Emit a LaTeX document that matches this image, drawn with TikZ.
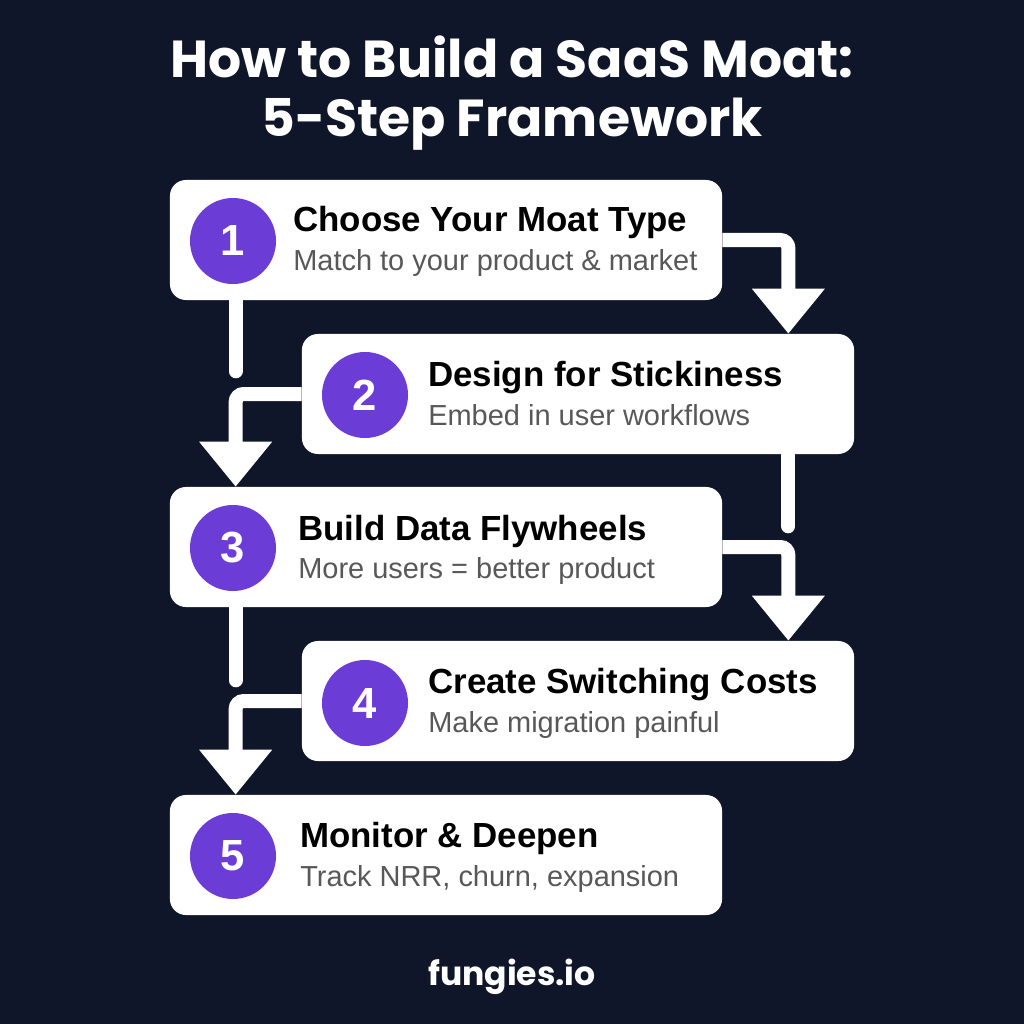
\documentclass[tikz,border=0pt]{standalone}
\usepackage{fontspec}
\setmainfont{Liberation Sans}
\newfontfamily\poppins{Poppins}
\usetikzlibrary{arrows.meta,calc,positioning}
\definecolor{bgnavy}{RGB}{15,22,41}
\definecolor{stepviolet}{RGB}{108,60,215}
\definecolor{subgray}{RGB}{88,88,88}

\begin{document}
\begin{tikzpicture}[x=0.025cm,y=-0.025cm,
    card/.style={fill=white,rounded corners=0.4cm,minimum width=13.8cm,minimum height=3cm},
    num/.style={circle,fill=stepviolet,minimum size=2.15cm,inner sep=0pt,text=white,font=\fontsize{31}{31}\selectfont\bfseries},
    head/.style={anchor=base west,inner sep=0pt,font=\fontsize{24.8}{24.8}\selectfont\bfseries},
    sub/.style={anchor=base west,inner sep=0pt,text=subgray,font=\fontsize{20.6}{20.6}\selectfont},
    flow/.style={white,line width=0.35cm,rounded corners=0.2cm,-{Triangle[width=1.75cm,length=1.125cm]}},
    stub/.style={white,line width=0.35cm,line cap=round},
    banner/.style={anchor=base,inner sep=0pt,text=white,font=\poppins\bfseries\fontsize{37}{37}\selectfont}]
  \fill[bgnavy] (0,0) rectangle (1024,1024);
  \useasboundingbox (0,0) rectangle (1024,1024);

  \node[banner] (title1) at (512,78) {How to Build a SaaS Moat:};
  \node[banner] (title2) at (512,137) {5-Step Framework};

  \node[card] (b1) at (446,240) {};
  \node[num] (n1) at (233,241) {1};
  \node[head] (h1) at (293,232) {Choose Your Moat Type};
  \node[sub] (s1) at (293,270) {Match to your product \& market};

  \node[card] (b2) at (578,394) {};
  \node[num] (n2) at (365,395) {2};
  \node[head] (h2) at (428,386) {Design for Stickiness};
  \node[sub] (s2) at (428,425) {Embed in user workflows};

  \node[card] (b3) at (446,547) {};
  \node[num] (n3) at (233,548) {3};
  \node[head] (h3) at (298,540) {Build Data Flywheels};
  \node[sub] (s3) at (298,578) {More users = better product};

  \node[card] (b4) at (578,701) {};
  \node[num] (n4) at (365,703) {4};
  \node[head] (h4) at (428,693) {Create Switching Costs};
  \node[sub] (s4) at (428,732) {Make migration painful};

  \node[card] (b5) at (446,855) {};
  \node[num] (n5) at (233,856) {5};
  \node[head] (h5) at (300,847) {Monitor \& Deepen};
  \node[sub] (s5) at (300,886) {Track NRR, churn, expansion};

  \draw[flow] (b1.east) -| ($(b2.north east)+(-66,0)$);
  \draw[flow] (b2.west) -| ($(b3.north west)+(66,0)$);
  \draw[flow] (b3.east) -| ($(b4.north east)+(-66,0)$);
  \draw[flow] (b4.west) -| ($(b5.north west)+(66,0)$);
  \draw[stub] ($(b1.south west)+(66,0)$) -- ++(0,71);
  \draw[stub] ($(b2.south east)+(-66,0)$) -- ++(0,72);
  \draw[stub] ($(b3.south west)+(66,0)$) -- ++(0,73);

  \node[anchor=base,text=white,font=\poppins\bfseries\fontsize{23.5}{23.5}\selectfont] (brand) at (512,985) {fungies.io};
\end{tikzpicture}
\end{document}
